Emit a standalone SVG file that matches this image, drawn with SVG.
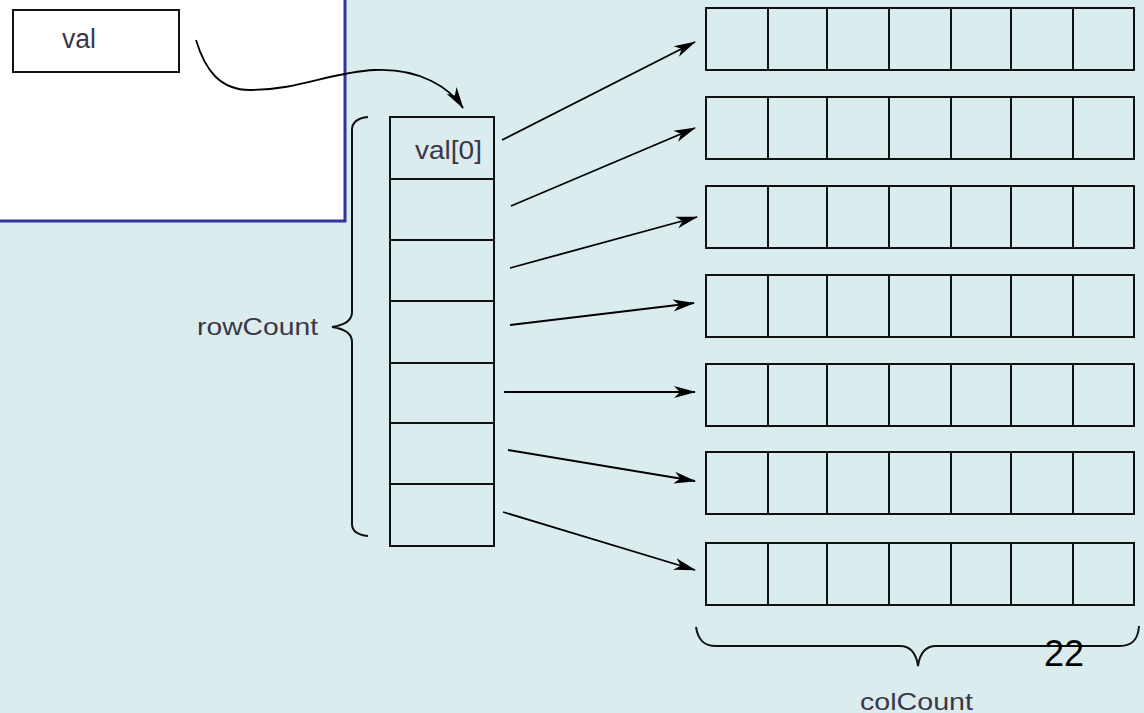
<svg xmlns="http://www.w3.org/2000/svg" width="1144" height="713" viewBox="0 0 1144 713">
<defs>
<marker id="ah" markerWidth="24" markerHeight="14" refX="21" refY="7" orient="auto" markerUnits="userSpaceOnUse">
<path d="M0,1 L22,7 L0,13 L6,7 Z" fill="#000"/>
</marker>
</defs>
<style>
.cell{fill:none;stroke:#111;stroke-width:2}
.br{fill:none;stroke:#111;stroke-width:2}
.con{fill:none;stroke:#000;stroke-width:1.8;marker-end:url(#ah)}
.lbl{font-family:"Liberation Sans",Arial,sans-serif;fill:#3a3848}
</style>
<rect x="0" y="0" width="1144" height="713" fill="#daecee"/>
<g id="frame">
<rect x="-5" y="-5" width="350" height="226" fill="#fff" stroke="#333399" stroke-width="3"/>
</g>
<g id="valbox">
<rect x="13" y="10" width="166" height="62" fill="#fff" stroke="#111" stroke-width="2"/>
<text class="lbl" x="62" y="48" font-size="27" textLength="34" lengthAdjust="spacingAndGlyphs">val</text>
</g>
<g id="rowarray">
<rect class="cell" x="390" y="117" width="104" height="429"/>
<path class="cell" d="M390,179H494M390,240H494M390,301H494M390,363H494M390,423H494M390,484H494"/>
<text class="lbl" x="415" y="159" font-size="25" textLength="67" lengthAdjust="spacingAndGlyphs">val[0]</text>
</g>
<g id="rowbrace">
<path class="br" d="M368,117 C358,118 352,122 352,130 L352,312 C352,320 346,325 332,327 C346,329 352,334 352,342 L352,524 C352,532 358,535 368,536"/>
<text class="lbl" x="197" y="335" font-size="24" textLength="121" lengthAdjust="spacingAndGlyphs">rowCount</text>
</g>
<g id="rows">
<g id="row1" transform="translate(0,8)"><rect class="cell" x="706" y="0" width="428" height="62"/><path class="cell" d="M768,0V62M827,0V62M889,0V62M951,0V62M1011,0V62M1073,0V62"/></g>
<g id="row2" transform="translate(0,97)"><rect class="cell" x="706" y="0" width="428" height="62"/><path class="cell" d="M768,0V62M827,0V62M889,0V62M951,0V62M1011,0V62M1073,0V62"/></g>
<g id="row3" transform="translate(0,186)"><rect class="cell" x="706" y="0" width="428" height="62"/><path class="cell" d="M768,0V62M827,0V62M889,0V62M951,0V62M1011,0V62M1073,0V62"/></g>
<g id="row4" transform="translate(0,275)"><rect class="cell" x="706" y="0" width="428" height="62"/><path class="cell" d="M768,0V62M827,0V62M889,0V62M951,0V62M1011,0V62M1073,0V62"/></g>
<g id="row5" transform="translate(0,364)"><rect class="cell" x="706" y="0" width="428" height="62"/><path class="cell" d="M768,0V62M827,0V62M889,0V62M951,0V62M1011,0V62M1073,0V62"/></g>
<g id="row6" transform="translate(0,452)"><rect class="cell" x="706" y="0" width="428" height="62"/><path class="cell" d="M768,0V62M827,0V62M889,0V62M951,0V62M1011,0V62M1073,0V62"/></g>
<g id="row7" transform="translate(0,543)"><rect class="cell" x="706" y="0" width="428" height="62"/><path class="cell" d="M768,0V62M827,0V62M889,0V62M951,0V62M1011,0V62M1073,0V62"/></g>
</g>
<g id="colbrace">
<path class="br" d="M696,627 C698,640 704,646 716,646 L900,646 C910,646 916,652 918,666 C920,652 926,646 936,646 L1120,646 C1132,646 1138,640 1139,626"/>
<text class="lbl" x="860" y="710" font-size="24" textLength="113" lengthAdjust="spacingAndGlyphs">colCount</text>
</g>
<g id="connectors">
<path class="con" d="M196,40 C205,70 220,90 250,90 C300,90 330,72 375,70 C420,68 450,88 463,108"/>
<path class="con" d="M502,140 L695,42"/>
<path class="con" d="M511,206 L695,128"/>
<path class="con" d="M510,268 L697,217"/>
<path class="con" d="M510,325 L694,303"/>
<path class="con" d="M504,392 L695,392"/>
<path class="con" d="M508,450 L695,481"/>
<path class="con" d="M503,512 L695,570"/>
</g>
<text x="1044" y="666" font-family="Liberation Sans,Arial,sans-serif" font-size="36" fill="#000">22</text>
</svg>
